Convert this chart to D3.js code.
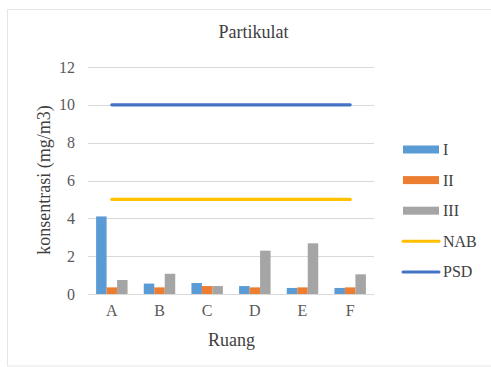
<!DOCTYPE html>
<html>
<head>
<meta charset="utf-8">
<script src="https://cdn.jsdelivr.net/npm/d3@7"></script>
<style>
  html, body { margin: 0; padding: 0; background: #fff; }
  svg { display: block; }
  svg text { font-family: 'Liberation Serif' !important; }
</style>
</head>
<body>
<svg id="chart" width="491" height="367" font-family="Liberation Serif"></svg>
<script>
// Particulate concentration per room (mg/m3)
const categories = ["A", "B", "C", "D", "E", "F"];
const seriesNames = ["I", "II", "III"];
const seriesI = [4.1, 0.55, 0.58, 0.42, 0.32, 0.32];
const seriesII = [0.35, 0.35, 0.42, 0.35, 0.35, 0.35];
const seriesIII = [0.74, 1.07, 0.42, 2.29, 2.68, 1.04];
const nabValue = [5, 5, 5, 5, 5, 5];
const psdValue = [10, 10, 10, 10, 10, 10];
const yTicks = [0, 2, 4, 6, 8, 10, 12];

const barColors = ["#5B9BD5", "#ED7D31", "#A5A5A5"];
const nabColor = "#FFC000";
const psdColor = "#4472C4";
const FONT = "Liberation Serif";

const svg = d3.select("#chart");

// chart area frame
svg.append("rect")
  .attr("x", 7.5).attr("y", 9.5)
  .attr("width", 500).attr("height", 356.5)
  .attr("fill", "#fff")
  .attr("stroke", "#e6e6e6").attr("stroke-width", 1);

const plot = { left: 88, right: 374, top: 67, bottom: 294 };

const x0 = d3.scaleBand()
  .domain(categories)
  .range([plot.left, plot.right])
  .paddingInner(0.34)
  .paddingOuter(0.17);

const x1 = d3.scaleBand()
  .domain(seriesNames)
  .range([0, x0.bandwidth()]);

const y = d3.scaleLinear()
  .domain([0, 12])
  .range([plot.bottom, plot.top]);

// horizontal gridlines
svg.append("g")
  .selectAll("line")
  .data(yTicks.filter(d => d !== 0))
  .join("line")
  .attr("x1", plot.left).attr("x2", plot.right)
  .attr("y1", d => Math.round(y(d)) + 0.5)
  .attr("y2", d => Math.round(y(d)) + 0.5)
  .attr("stroke", "#d9d9d9").attr("stroke-width", 1);

// y axis labels
const yAxis = d3.axisLeft(y).tickValues(yTicks).tickSize(0).tickPadding(13);
const yg = svg.append("g").attr("transform", `translate(${plot.left},0)`).call(yAxis);
yg.attr("font-family", FONT).attr("font-size", 16);
yg.select(".domain").remove();
yg.selectAll("text").attr("fill", "#595959");

// bars
const table = categories.map((c, i) => ({
  cat: c,
  values: [seriesI[i], seriesII[i], seriesIII[i]]
}));

const groups = svg.append("g")
  .selectAll("g")
  .data(table)
  .join("g")
  .attr("transform", d => `translate(${x0(d.cat)},0)`);

groups.selectAll("rect")
  .data(d => d.values.map((v, k) => ({ name: seriesNames[k], v, k })))
  .join("rect")
  .attr("x", d => x1(d.name))
  .attr("width", x1.bandwidth())
  .attr("y", d => y(d.v))
  .attr("height", d => y(0) - y(d.v))
  .attr("fill", d => barColors[d.k]);

// x axis baseline
svg.append("line")
  .attr("x1", plot.left).attr("x2", plot.right)
  .attr("y1", plot.bottom + 0.5).attr("y2", plot.bottom + 0.5)
  .attr("stroke", "#d9d9d9").attr("stroke-width", 1);

// x axis labels
const xAxis = d3.axisBottom(x0).tickSize(0).tickPadding(11);
const xg = svg.append("g").attr("transform", `translate(0,${plot.bottom})`).call(xAxis);
xg.attr("font-family", FONT).attr("font-size", 16);
xg.select(".domain").remove();
xg.selectAll("text").attr("fill", "#595959");

// threshold lines
const line = d3.line()
  .x((d, i) => x0(categories[i]) + x0.bandwidth() / 2)
  .y(d => y(d));

svg.append("path")
  .datum(nabValue)
  .attr("d", line)
  .attr("fill", "none")
  .attr("stroke", nabColor).attr("stroke-width", 3.2)
  .attr("stroke-linecap", "round");

svg.append("path")
  .datum(psdValue)
  .attr("d", line)
  .attr("fill", "none")
  .attr("stroke", psdColor).attr("stroke-width", 3.2)
  .attr("stroke-linecap", "round");

// title
svg.append("text")
  .attr("x", 253.5).attr("y", 38)
  .attr("text-anchor", "middle")
  .attr("font-family", FONT).attr("font-size", 18)
  .attr("fill", "#404040")
  .text("Partikulat");

// axis titles
svg.append("text")
  .attr("transform", "translate(50,180) rotate(-90)")
  .attr("text-anchor", "middle")
  .attr("font-family", FONT).attr("font-size", 18)
  .attr("fill", "#404040")
  .text("konsentrasi (mg/m3)");

svg.append("text")
  .attr("x", 231.5).attr("y", 346)
  .attr("text-anchor", "middle")
  .attr("font-family", FONT).attr("font-size", 18)
  .attr("fill", "#404040")
  .text("Ruang");

// legend
const legendItems = [
  { name: "I", color: barColors[0], type: "bar" },
  { name: "II", color: barColors[1], type: "bar" },
  { name: "III", color: barColors[2], type: "bar" },
  { name: "NAB", color: nabColor, type: "line" },
  { name: "PSD", color: psdColor, type: "line" }
];

const lg = svg.append("g")
  .selectAll("g")
  .data(legendItems)
  .join("g")
  .attr("transform", (d, i) => `translate(403,${149.5 + i * 30.6})`);

lg.filter(d => d.type === "bar").append("rect")
  .attr("x", 0).attr("y", -4)
  .attr("width", 36).attr("height", 8)
  .attr("fill", d => d.color);

lg.filter(d => d.type === "line").append("line")
  .attr("x1", 0).attr("x2", 36)
  .attr("y1", 0).attr("y2", 0)
  .attr("stroke", d => d.color).attr("stroke-width", 3)
  .attr("stroke-linecap", "round");

lg.append("text")
  .attr("x", 40).attr("y", 5.5)
  .attr("font-family", FONT).attr("font-size", 16)
  .attr("fill", "#404040")
  .text(d => d.name);
</script>
</body>
</html>
